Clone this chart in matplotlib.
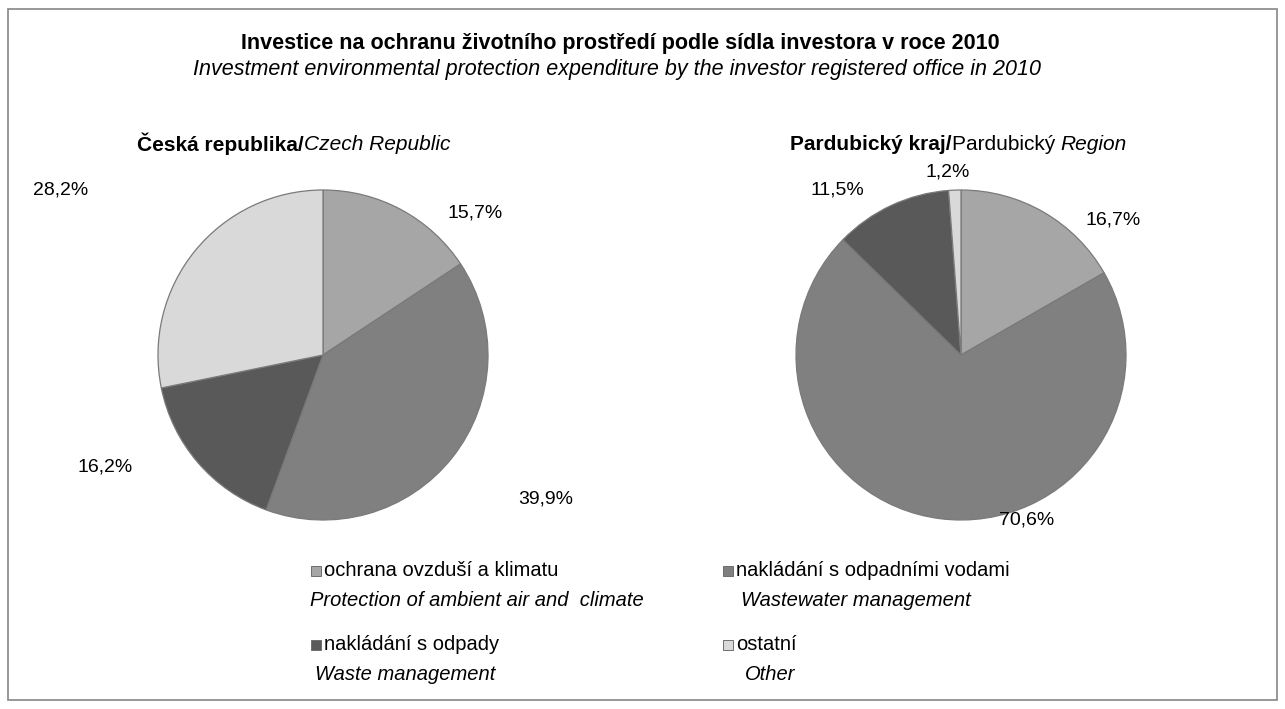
import matplotlib
matplotlib.use('Agg')
import matplotlib.pyplot as plt
from matplotlib.patches import Rectangle

plt.rcParams['font.family'] = ['Liberation Sans', 'DejaVu Sans']

# data
kategorie = ['ochrana ovzduší a klimatu', 'nakládání s odpadními vodami',
             'nakládání s odpady', 'ostatní']
kategorieEn = ['Protection of ambient air and  climate', 'Wastewater management',
               'Waste management', 'Other']
czHodnoty = [15.7, 39.9, 16.2, 28.2]
pardHodnoty = [16.7, 70.6, 11.5, 1.2]
barvy = ['#a6a6a6', '#808080', '#595959', '#d9d9d9']

# label positions in pie units (radius = 1)
czPozice = [(0.92, 0.86), (1.35, -0.87), (-1.32, -0.68), (-1.59, 1.0)]
pardPozice = [(0.92, 0.82), (0.40, -1.0), (-0.75, 1.0), (-0.08, 1.11)]

W, H = 1285, 709
fig = plt.figure(figsize=(W / 100, H / 100), dpi=100)

# frame round the chart
fig.patches.append(Rectangle((8 / W, 1 - 700 / H), (1277 - 8) / W, (700 - 9) / H,
                             transform=fig.transFigure, fill=False,
                             edgecolor='#868686', linewidth=1.2))

R = 165  # pie radius in px
lim = 1.8


def kolac(cx, cy, hodnoty, pozice):
    s = 2 * lim * R
    ax = fig.add_axes([(cx - s / 2) / W, 1 - (cy + s / 2) / H, s / W, s / H])
    ax.pie(hodnoty, colors=barvy, startangle=90, counterclock=False,
           wedgeprops=dict(edgecolor='#7a7a7a', linewidth=0.9))
    ax.set_xlim(-lim, lim)
    ax.set_ylim(-lim, lim)
    ax.set_aspect('equal')
    ax.axis('off')
    for v, (x, y) in zip(hodnoty, pozice):
        ax.text(x, y, ('%.1f%%' % v).replace('.', ','), ha='center', va='center',
                fontsize=14, color='black')
    return ax


kolac(323, 355, czHodnoty, czPozice)
kolac(961, 355, pardHodnoty, pardPozice)

# titles
fig.text(620 / W, 1 - 43 / H,
         'Investice na ochranu životního prostředí podle sídla investora v roce 2010',
         ha='center', va='center', fontsize=15.5, fontweight='bold')
fig.text(617 / W, 1 - 69 / H,
         'Investment environmental protection expenditure by the investor registered office in 2010',
         ha='center', va='center', fontsize=15.5, fontstyle='italic')


def dvojtext(x, y, kusy):
    # pieces of one line with their own weight / style
    for txt, kw in kusy:
        t = fig.text(x / W, 1 - y / H, txt, ha='left', va='center', fontsize=15, **kw)
        fig.canvas.draw()
        x = t.get_window_extent().x1


dvojtext(137, 144, [('Česká republika/', dict(fontweight='bold')),
                    ('Czech Republic', dict(fontstyle='italic'))])
dvojtext(790, 144, [('Pardubický kraj/', dict(fontweight='bold')),
                    ('Pardubický ', {}),
                    ('Region', dict(fontstyle='italic'))])

# legend
legX = [316, 728]
legY = [571, 645]
enX = [310, 741, 315, 745]
for i, (cz, en) in enumerate(zip(kategorie, kategorieEn)):
    x = legX[i % 2]
    y = legY[i // 2]
    fig.patches.append(Rectangle(((x - 5) / W, 1 - (y + 5) / H), 10 / W, 10 / H,
                                 transform=fig.transFigure, facecolor=barvy[i],
                                 edgecolor='#6e6e6e', linewidth=0.7))
    fig.text((x + 8) / W, 1 - y / H, cz, ha='left', va='center', fontsize=14.5)
    fig.text(enX[i] / W, 1 - (y + 29) / H, en, ha='left', va='center',
             fontsize=14.5, fontstyle='italic')

fig.savefig('out.png', dpi=100)
